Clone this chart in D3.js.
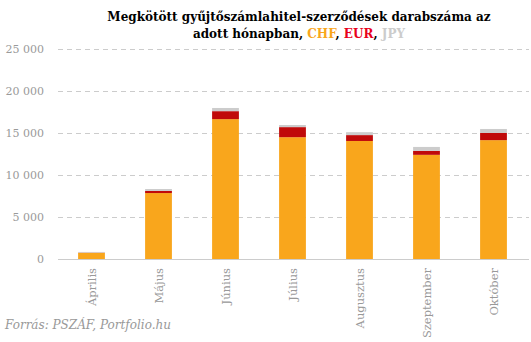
<!DOCTYPE html>
<html><head><meta charset="utf-8">
<script src="https://cdn.jsdelivr.net/npm/d3@7"></script>
<style>body{margin:0;background:#fff}</style>
</head><body>
<svg id="c" width="531" height="342"></svg>
<script>
const months = ["Április","Május","Június","Július","Augusztus","Szeptember","Október"];
const chf = [740, 7850, 16650, 14500, 14050, 12400, 14150];
const eur = [20, 250, 950, 1200, 700, 470, 850];
const jpy = [80, 230, 380, 250, 350, 470, 480];
const yTicks = [0, 5000, 10000, 15000, 20000, 25000];
const seriesNames = ["CHF","EUR","JPY"];
const colors = ["#F9A61C","#C00A0A","#CCCCCC"];

const svg = d3.select("#c");
const serif = "Georgia, 'DejaVu Serif', 'Liberation Serif', serif";
const x = d3.scaleBand().domain(months).range([58, 527]).paddingInner(0.6).paddingOuter(0.3);
const y = d3.scaleLinear().domain([0, 25000]).range([259, 49]);

// grid
svg.append("g").selectAll("line").data(yTicks.filter(d=>d>0)).join("line")
  .attr("x1", 58).attr("x2", 529).attr("y1", d=>y(d)+0.5).attr("y2", d=>y(d)+0.5)
  .attr("stroke", "#ccc").attr("stroke-dasharray", "5,4");

// y labels
const fmt = d => d===0 ? "0" : d3.format(",")(d).replace(/,/g, " ");
svg.append("g").selectAll("text").data(yTicks).join("text")
  .attr("x", 44).attr("y", d=>y(d)+4).attr("text-anchor","end")
  .attr("font-family", serif).attr("font-size", 11).attr("fill","#9a9a9a")
  .text(fmt);

// stacked bars
const table = months.map((m,i)=>({m, CHF: chf[i], EUR: eur[i], JPY: jpy[i]}));
const stack = d3.stack().keys(seriesNames)(table);
svg.append("g").selectAll("g").data(stack).join("g")
  .attr("fill", (d,i)=>colors[i])
  .selectAll("rect").data(d=>d).join("rect")
  .attr("x", d=>x(d.data.m)).attr("width", x.bandwidth())
  .attr("y", d=>y(d[1])).attr("height", d=>y(d[0])-y(d[1]));

// baseline
svg.append("line").attr("x1",58).attr("x2",529).attr("y1",259.5).attr("y2",259.5)
  .attr("stroke","#ccc").attr("stroke-width",1);

// x labels
svg.append("g").selectAll("text").data(months).join("text")
  .attr("transform", d=>`translate(${x(d)+x.bandwidth()/2+4},268) rotate(-90)`)
  .attr("text-anchor","end")
  .attr("font-family", serif).attr("font-size", 11.5).attr("fill","#999")
  .text(d=>d);

// title
const t = svg.append("text").attr("text-anchor","middle").attr("font-family", serif)
  .attr("font-weight","bold").attr("font-size", 12).attr("fill","#000");
t.append("tspan").attr("x", 299).attr("y", 21).text("Megkötött gyűjtőszámlahitel-szerződések darabszáma az");
const l2 = t.append("tspan").attr("x", 299).attr("y", 38);
l2.append("tspan").text("adott hónapban, ");
l2.append("tspan").attr("fill", colors[0]).text("CHF");
l2.append("tspan").text(", ");
l2.append("tspan").attr("fill", "#E8001C").text("EUR");
l2.append("tspan").text(", ");
l2.append("tspan").attr("fill", colors[2]).text("JPY");

// source
svg.append("text").attr("x",5).attr("y",329).attr("font-family", serif)
  .attr("font-style","italic").attr("font-size",12).attr("fill","#999")
  .text("Forrás: PSZÁF, Portfolio.hu");
</script>
</body></html>
